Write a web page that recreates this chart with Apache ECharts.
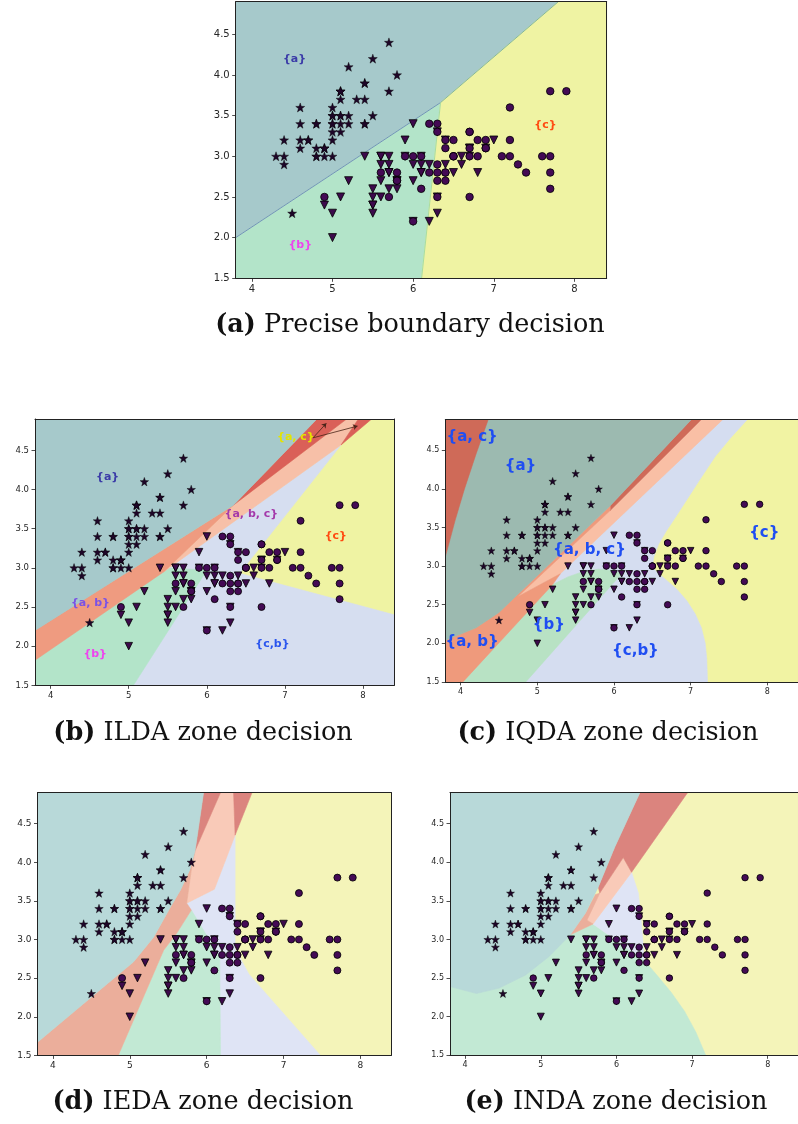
<!DOCTYPE html>
<html><head><meta charset="utf-8">
<script src="https://cdn.jsdelivr.net/npm/echarts@6/dist/echarts.min.js"></script>
<style>html,body{margin:0;padding:0;background:#fff}#c{width:798px;height:1124px}</style>
</head><body><div id="c"></div>
<script>
// ---------- axes ----------
const xRange = [3.8, 8.4];
const yRange = [1.5, 4.9];
const xTicks = [4, 5, 6, 7, 8];
const yTicks = [1.5, 2.0, 2.5, 3.0, 3.5, 4.0, 4.5];

// ---------- iris (sepal length, sepal width) ----------
const setosa = [[5.1,3.5],[4.9,3.0],[4.7,3.2],[4.6,3.1],[5.0,3.6],[5.4,3.9],[4.6,3.4],[5.0,3.4],[4.4,2.9],[4.9,3.1],
[5.4,3.7],[4.8,3.4],[4.8,3.0],[4.3,3.0],[5.8,4.0],[5.7,4.4],[5.4,3.9],[5.1,3.5],[5.7,3.8],[5.1,3.8],
[5.4,3.4],[5.1,3.7],[4.6,3.6],[5.1,3.3],[4.8,3.4],[5.0,3.0],[5.0,3.4],[5.2,3.5],[5.2,3.4],[4.7,3.2],
[4.8,3.1],[5.4,3.4],[5.2,4.1],[5.5,4.2],[4.9,3.1],[5.0,3.2],[5.5,3.5],[4.9,3.1],[4.4,3.0],[5.1,3.4],
[5.0,3.5],[4.5,2.3],[4.4,3.2],[5.0,3.5],[5.1,3.8],[4.8,3.0],[5.1,3.8],[4.6,3.2],[5.3,3.7],[5.0,3.3]];
const versicolor = [[7.0,3.2],[6.4,3.2],[6.9,3.1],[5.5,2.3],[6.5,2.8],[5.7,2.8],[6.3,3.3],[4.9,2.4],[6.6,2.9],[5.2,2.7],
[5.0,2.0],[5.9,3.0],[6.0,2.2],[6.1,2.9],[5.6,2.9],[6.7,3.1],[5.6,3.0],[5.8,2.7],[6.2,2.2],[5.6,2.5],
[5.9,3.2],[6.1,2.8],[6.3,2.5],[6.1,2.8],[6.4,2.9],[6.6,3.0],[6.8,2.8],[6.7,3.0],[6.0,2.9],[5.7,2.6],
[5.5,2.4],[5.5,2.4],[5.8,2.7],[6.0,2.7],[5.4,3.0],[6.0,3.4],[6.7,3.1],[6.3,2.3],[5.6,3.0],[5.5,2.5],
[5.5,2.6],[6.1,3.0],[5.8,2.6],[5.0,2.3],[5.6,2.7],[5.7,3.0],[5.7,2.9],[6.2,2.9],[5.1,2.5],[5.7,2.8]];
const virginica = [[6.3,3.3],[5.8,2.7],[7.1,3.0],[6.3,2.9],[6.5,3.0],[7.6,3.0],[4.9,2.5],[7.3,2.9],[6.7,2.5],[7.2,3.6],
[6.5,3.2],[6.4,2.7],[6.8,3.0],[5.7,2.5],[5.8,2.8],[6.4,3.2],[6.5,3.0],[7.7,3.8],[7.7,2.6],[6.0,2.2],
[6.9,3.2],[5.6,2.8],[7.7,2.8],[6.3,2.7],[6.7,3.3],[7.2,3.2],[6.2,2.8],[6.1,3.0],[6.4,2.8],[7.2,3.0],
[7.4,2.8],[7.9,3.8],[6.4,2.8],[6.3,2.8],[6.1,2.6],[7.7,3.0],[6.3,3.4],[6.4,3.1],[6.0,3.0],[6.9,3.1],
[6.7,3.1],[6.9,3.1],[5.8,2.7],[6.8,3.2],[6.7,3.3],[6.7,3.0],[6.3,2.5],[6.5,3.0],[6.2,3.4],[5.9,3.0]];

// ---------- decision zones (vertices in data units) ----------
const full = [[3.8,1.5],[8.4,1.5],[8.4,4.9],[3.8,4.9]];
// (a) precise
const zA_a = [[3.8,2.0],[6.34,3.66],[7.80,4.9],[3.8,4.9]];
const zA_b = [[3.8,1.5],[6.105,1.5],[6.34,3.66],[3.8,2.0]];
const zA_c = [[6.105,1.5],[8.4,1.5],[8.4,4.9],[7.80,4.9],[6.34,3.66]];
const boundA1 = [[3.8,2.0],[6.34,3.66]];
const boundA2 = [[6.34,3.66],[7.80,4.9]];
const boundA3 = [[6.34,3.66],[6.105,1.5]];
// (b) ILDA
const zB_cb = [[4.5,1.5],[8.4,1.5],[8.4,2.4],[6.42,2.93],[7.72,4.57],[5.45,2.95]];
const zB_b = [[3.8,1.5],[5.06,1.5],[6.0,2.97],[5.45,3.0],[3.8,2.5]];
const zB_abc = [[5.45,2.95],[6.34,3.8],[7.79,4.9],[7.94,4.9],[7.72,4.57]];
const zB_ac1 = [[6.34,3.8],[7.41,4.9],[7.79,4.9]];
const zB_ac2 = [[7.94,4.9],[8.11,4.9],[7.72,4.57]];
const zB_ab = [[3.8,1.82],[5.45,2.95],[6.34,3.8],[3.8,2.2]];
const zB_a = [[3.8,2.2],[6.34,3.8],[7.41,4.9],[3.8,4.9]];
const arrowsB = [[[7.36,4.66],[7.53,4.845]],[[7.36,4.66],[7.93,4.81]]];
// (c) IQDA
const zC_cb = [[4.6,1.5],[7.22,1.5],[7.21,1.8],[7.19,2.0],[7.14,2.2],[7.06,2.38],[6.95,2.55],[6.82,2.7],[6.67,2.83],
  [6.55,2.93],[6.5,3.0],[6.52,3.12],[6.58,3.28],[6.68,3.45],[6.8,3.63],[6.95,3.86],[7.12,4.12],[7.32,4.42],[7.52,4.66],
  [7.74,4.9],[5.0,4.9]];
const zC_b = [[3.8,1.5],[4.85,1.5],[6.1,2.9],[6.0,2.94],[5.8,2.96],[5.6,2.93],[5.4,2.86],[5.2,2.76],[3.8,2.3]];
const zC_abc = [[4.74,2.6],[5.95,3.72],[7.14,4.9],[7.42,4.9],[5.3,2.9]];
const zC_ac1 = [[5.95,3.78],[7.01,4.9],[7.14,4.9],[5.95,3.72]];
const zC_ab = [[3.8,1.5],[4.03,1.5],[5.2,2.76],[5.3,2.9],[4.74,2.6],[5.95,3.72],[5.95,3.78],[4.5,2.4],[4.2,2.2],[3.8,2.04]];
const zC_a = [[3.8,2.04],[4.2,2.2],[4.5,2.4],[5.95,3.78],[7.01,4.9],[3.8,4.9]];
const zC_ac2 = [[3.8,4.9],[4.36,4.9],[4.2,4.45],[4.05,4.0],[3.93,3.6],[3.8,3.12]];
// (d) IEDA
const zD_cb = [[5.74,3.47],[6.1,3.65],[6.37,4.35],[6.37,2.88],[6.55,2.55],[7.48,1.5],[5.5,1.5],[5.5,3.2]];
const zD_b = [[4.85,1.5],[6.18,1.5],[6.17,2.75],[5.96,3.12],[5.8,3.38],[5.61,3.08],[5.44,2.86]];
const zD_abc = [[6.18,4.9],[6.35,4.9],[6.37,4.35],[6.1,3.65],[5.74,3.47],[5.8,3.9],[5.85,4.15]];
const zD_ac1 = [[5.96,4.9],[6.18,4.9],[5.85,4.15]];
const zD_ac2 = [[6.35,4.9],[6.59,4.9],[6.37,4.35]];
const zD_ab = [[3.8,1.5],[4.85,1.5],[5.44,2.86],[5.61,3.08],[5.8,3.38],[5.74,3.47],[5.8,3.9],[5.85,4.15],
  [5.78,3.9],[5.66,3.64],[5.53,3.42],[5.31,3.03],[5.05,2.71],[3.8,1.67]];
const zD_a = [[3.8,1.67],[5.05,2.71],[5.31,3.03],[5.53,3.42],[5.66,3.64],[5.78,3.9],[5.85,4.15],[5.96,4.9],[3.8,4.9]];
// (e) INDA
const zE_b = [[3.8,1.5],[7.18,1.5],[7.05,1.8],[6.9,2.07],[6.72,2.32],[6.55,2.52],[6.42,2.67],[6.37,2.73],[5.69,3.2],[5.39,3.06],[3.8,2.39]];
const zE_cb = [[6.2,3.87],[6.29,3.6],[6.33,3.21],[6.37,2.73],[5.69,3.2]];
const zE_abc = [[6.09,4.06],[6.2,3.87],[5.69,3.2],[5.61,3.25],[5.65,3.4]];
const zE_ac = [[6.31,4.9],[6.94,4.9],[6.2,3.87],[6.09,4.06],[5.78,3.6],[5.76,3.68],[5.98,4.2]];
const zE_ab = [[5.39,3.06],[5.69,3.2],[5.61,3.25],[5.78,3.6],[5.72,3.58],[5.59,3.34]];
const zE_a = [[3.8,4.9],[6.31,4.9],[5.98,4.2],[5.76,3.68],[5.59,3.34],[5.39,3.06],[5.11,2.78],[4.80,2.54],[4.45,2.37],[4.15,2.30],[3.8,2.39]];

// ---------- zone labels ----------
const labelsA = [['{a}',4.53,4.2],['{b}',4.6,1.91],['{c}',7.64,3.38]];
const labelsB = [['{a}',4.73,4.16],['{a, b}',4.51,2.55],['{b}',4.57,1.9],['{c}',7.65,3.41],['{c,b}',6.84,2.03],['{a, b, c}',6.57,3.69],['{a, c}',7.14,4.67]];
const labelsC = [['{a, c}',4.15,4.67],['{a}',4.78,4.3],['{a, b, c}',5.68,3.21],['{a, b}',4.15,2.01],['{b}',5.15,2.24],['{c,b}',6.28,1.9],['{c}',7.96,3.43]];

const captions = [['(a)',' Precise boundary decision'],['(b)',' ILDA zone decision'],['(c)',' IQDA zone decision'],['(d)',' IEDA zone decision'],['(e)',' INDA zone decision']];

// ---------- styles ----------
const pal1 = {a:'#a6c9cb', b:'#b3e4c9', c:'#eff3a3', ab:'#ef9b80', abc:'#f7c0a8', ac:'#da6058', cb:'#d6def0'};
const palC = {a:'#9cbab0', b:'#b8e2c4', c:'#f1f3a3', ab:'#ef9a7c', abc:'#f9bfa5', ac:'#cf6a58', cb:'#d5ddf0'};
const palD = {a:'#b8d9d9', b:'#c2e9d4', c:'#f4f4b9', ab:'#ebae9b', abc:'#f9cab8', ac:'#db847e', cb:'#dfe4f5'};
const labelColor1 = {'{a}':'#3b3ba8','{b}':'#ee44ee','{c}':'#ff4a10','{a, b}':'#7a52e6','{c,b}':'#2a55ee','{a, b, c}':'#a43aaa','{a, c}':'#e4e400'};

const panels = [
  {grid:{left:235.7,top:1.7,width:371,height:276.6}, pal:pal1, zones:[['a',zA_a],['b',zA_b],['c',zA_c]],
   labels:labelsA, labelFont:11, labelColors:labelColor1, tick:10, sizes:[9,8,7.5],
   bounds:[[boundA1,'#7393b8'],[boundA2,'#86b89a'],[boundA3,'#a8dca0']], cap:[410,325]},
  {grid:{left:35,top:419,width:359.3,height:266.3}, pal:pal1,
   zones:[['c',full],['cb',zB_cb],['b',zB_b],['abc',zB_abc],['ac',zB_ac1],['ac',zB_ac2],['ab',zB_ab],['a',zB_a]],
   labels:labelsB, labelFont:11, labelColors:labelColor1, tick:8.5, sizes:[8.5,7.5,7], arrows:arrowsB, cap:[203,733]},
  {grid:{left:445.3,top:419.4,width:355.6,height:262.5}, pal:palC,
   zones:[['c',full],['cb',zC_cb],['b',zC_b],['abc',zC_abc],['ac',zC_ac1],['ab',zC_ab],['a',zC_a],['ac',zC_ac2]],
   labels:labelsC, labelFont:15, labelColors:null, tick:8, sizes:[7.5,6.5,6.5], cap:[608,733]},
  {grid:{left:37.5,top:792.6,width:353.7,height:262.8}, pal:palD,
   zones:[['c',full],['cb',zD_cb],['b',zD_b],['abc',zD_abc],['ac',zD_ac1],['ac',zD_ac2],['ab',zD_ab],['a',zD_a]],
   labels:[], tick:9, sizes:[8.5,7.5,7], cap:[203,1102]},
  {grid:{left:450,top:792.7,width:351.4,height:262.6}, pal:palD,
   zones:[['c',full],['b',zE_b],['cb',zE_cb],['abc',zE_abc],['ac',zE_ac],['ab',zE_ab],['a',zE_a]],
   labels:[], tick:8, sizes:[8,7,6.5], cap:[616,1102]}
];

const starPath = 'path://M0,-10 L2.35,-3.24 L9.51,-3.09 L3.8,1.24 L5.88,8.09 L0,4 L-5.88,8.09 L-3.8,1.24 L-9.51,-3.09 L-2.35,-3.24 Z';

const grids = [], xAxes = [], yAxes = [], series = [], graphics = [];
const axisCol = '#222';
panels.forEach((p, i) => {
  grids.push(Object.assign({containLabel:false}, p.grid));
  const lab = {fontSize:p.tick, color:'#262626', fontFamily:'DejaVu Sans'};
  xAxes.push({gridIndex:i, type:'value', min:xRange[0], max:xRange[1], z:10,
    axisLine:{show:true,onZero:false,lineStyle:{color:axisCol,width:1}},
    axisTick:{show:true,length:3.5,customValues:xTicks,lineStyle:{color:axisCol,width:0.8}},
    axisLabel:Object.assign({customValues:xTicks, margin:6, formatter:v=>String(v)}, lab),
    splitLine:{show:false}});
  xAxes.push({gridIndex:i, type:'value', position:'top', min:xRange[0], max:xRange[1], z:10,
    axisLine:{show:true,onZero:false,lineStyle:{color:axisCol,width:1}},
    axisTick:{show:false}, axisLabel:{show:false}, splitLine:{show:false}});
  yAxes.push({gridIndex:i, type:'value', min:yRange[0], max:yRange[1], z:10,
    axisLine:{show:true,onZero:false,lineStyle:{color:axisCol,width:1}},
    axisTick:{show:true,length:3.5,customValues:yTicks,lineStyle:{color:axisCol,width:0.8}},
    axisLabel:Object.assign({customValues:yTicks, margin:6, formatter:v=>v.toFixed(1)}, lab),
    splitLine:{show:false}});
  yAxes.push({gridIndex:i, type:'value', position:'right', min:yRange[0], max:yRange[1], z:10,
    axisLine:{show:true,onZero:false,lineStyle:{color:axisCol,width:1}},
    axisTick:{show:false}, axisLabel:{show:false}, splitLine:{show:false}});
  const xi = 2*i, yi = 2*i;
  const zones = p.zones;
  series.push({type:'custom', xAxisIndex:xi, yAxisIndex:yi, clip:true, z:1, silent:true,
    data: zones.map((z, k) => [k]),
    renderItem: (params, api) => {
      const z = zones[api.value(0)];
      return {type:'polygon', shape:{points:z[1].map(pt => api.coord(pt))},
        style:{fill:p.pal[z[0]], stroke:p.pal[z[0]], lineWidth:0.6}};
    }});
  if (p.bounds) {
    const b = p.bounds;
    series.push({type:'custom', xAxisIndex:xi, yAxisIndex:yi, clip:true, z:1.5, silent:true,
      data: b.map((z,k)=>[k]),
      renderItem: (params, api) => {
        const z = b[api.value(0)];
        return {type:'polyline', shape:{points:z[0].map(pt=>api.coord(pt))}, style:{stroke:z[1], lineWidth:1, fill:null}};
      }});
  }
  const [ss, ts, cs] = p.sizes;
  series.push({type:'scatter', xAxisIndex:xi, yAxisIndex:yi, z:3, data:setosa, symbol:starPath, symbolSize:ss,
    itemStyle:{color:'#1e0628', borderColor:'#000', borderWidth:0.4, opacity:1}, silent:true});
  series.push({type:'scatter', xAxisIndex:xi, yAxisIndex:yi, z:3, data:versicolor, symbol:'triangle', symbolRotate:180, symbolSize:ts,
    itemStyle:{color:'#3d0a4c', borderColor:'#000', borderWidth:0.8, opacity:1}, silent:true});
  series.push({type:'scatter', xAxisIndex:xi, yAxisIndex:yi, z:3, data:virginica, symbol:'circle', symbolSize:cs,
    itemStyle:{color:'#440a55', borderColor:'#000', borderWidth:0.8, opacity:1}, silent:true});
  if (p.labels.length) {
    const L = p.labels;
    series.push({type:'custom', xAxisIndex:xi, yAxisIndex:yi, clip:false, z:4, silent:true,
      data: L.map((l,k)=>[k]),
      renderItem: (params, api) => {
        const l = L[api.value(0)];
        const pt = api.coord([l[1], l[2]]);
        return {type:'text', x:pt[0], y:pt[1], style:{text:l[0], fill: p.labelColors ? p.labelColors[l[0]] : '#1f4ef2',
          font:'bold ' + p.labelFont + 'px "DejaVu Sans"', align:'center', verticalAlign:'middle'}};
      }});
  }
  if (p.arrows) {
    series.push({type:'lines', coordinateSystem:'cartesian2d', xAxisIndex:xi, yAxisIndex:yi, z:4, silent:true,
      symbol:['none','arrow'], symbolSize:4.5,
      lineStyle:{color:'#4a2418', width:0.8, opacity:1},
      data: p.arrows.map(a => ({coords:a}))});
  }
  const c = captions[i];
  graphics.push({type:'text', x:p.cap[0], y:p.cap[1], style:{
    text:'{b|' + c[0] + '}' + c[1], align:'center', verticalAlign:'middle',
    font:'25.5px "DejaVu Serif"', fill:'#111',
    rich:{b:{fontWeight:'bold', fontSize:25.5, fontFamily:'DejaVu Serif', fill:'#111'}}}});
});

const chart = echarts.init(document.getElementById('c'), null, {renderer:'canvas'});
chart.setOption({animation:false, backgroundColor:'#fff', grid:grids, xAxis:xAxes, yAxis:yAxes, series:series, graphic:graphics});
</script></body></html>
